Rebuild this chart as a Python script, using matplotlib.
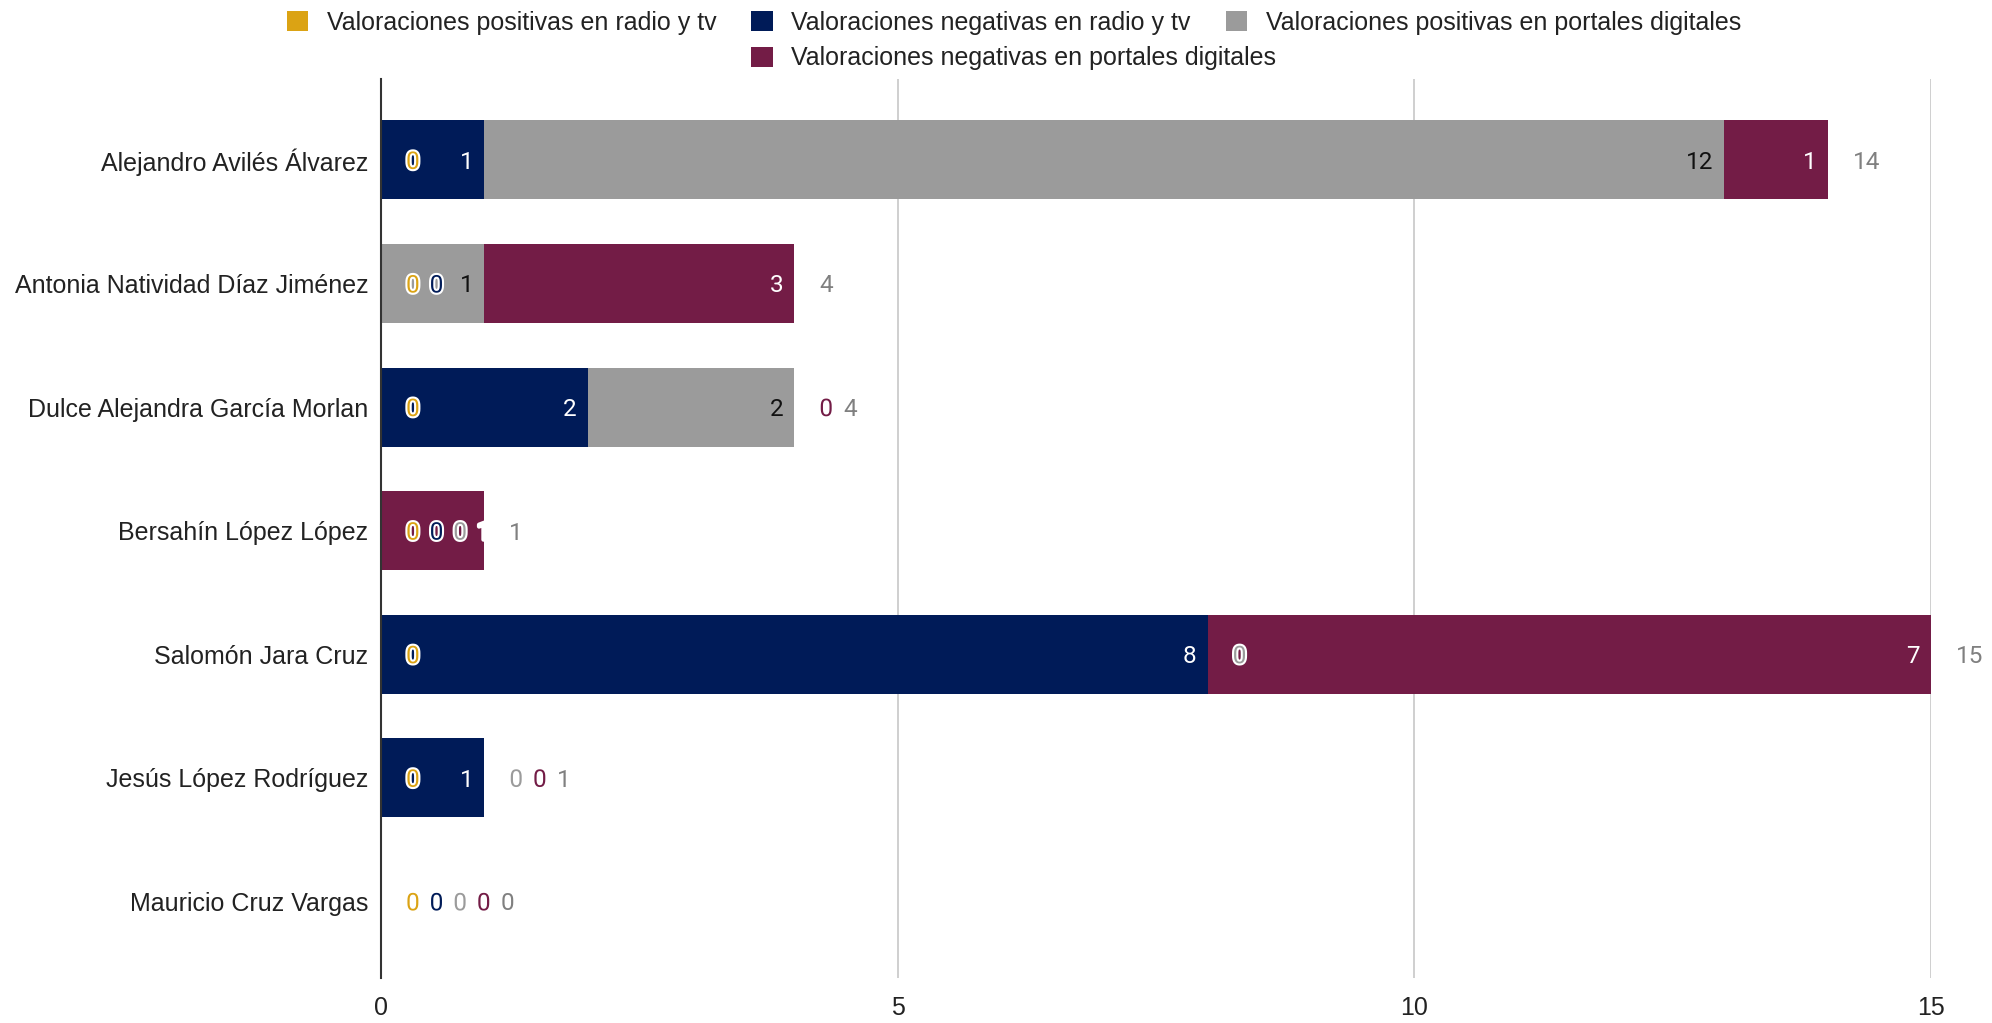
import matplotlib
matplotlib.use('Agg')
import matplotlib.pyplot as plt
import matplotlib.patheffects as pe
import numpy as np
from matplotlib.patches import Patch

candidatos = ['Alejandro Avilés Álvarez', 'Antonia Natividad Díaz Jiménez',
              'Dulce Alejandra García Morlan', 'Bersahín López López',
              'Salomón Jara Cruz', 'Jesús López Rodríguez', 'Mauricio Cruz Vargas']
series = ['Valoraciones positivas en radio y tv', 'Valoraciones negativas en radio y tv',
          'Valoraciones positivas en portales digitales', 'Valoraciones negativas en portales digitales']
pos_radio = [0, 0, 0, 0, 0, 0, 0]
neg_radio = [1, 0, 2, 0, 8, 1, 0]
pos_portales = [12, 1, 2, 0, 0, 0, 0]
neg_portales = [1, 3, 0, 1, 7, 0, 0]
valores = [pos_radio, neg_radio, pos_portales, neg_portales]
colores = ['#DBA314', '#001B58', '#9B9B9B', '#731C46']
texto_dentro = ['#ffffff', '#ffffff', '#111111', '#ffffff']
xticks = [0, 5, 10, 15]

plt.rcParams['font.family'] = ['Liberation Sans', 'DejaVu Sans']
FS = 18
FS_VAL = 17.5

fig = plt.figure(figsize=(19.92, 10.23), dpi=100)
ax = fig.add_axes([0.1913, 0.044, 0.7781, 0.8788])

y = np.arange(len(candidatos))
left = np.zeros(len(candidatos))
for vals, c in zip(valores, colores):
    ax.barh(y, vals, left=left, height=0.64, color=c, zorder=2)
    left = left + np.array(vals)
totales = left.astype(int)

ax.set_xlim(0, 15)
ax.set_ylim(6.62, -0.655)
ax.set_xticks(xticks)
ax.set_xticklabels([str(t) for t in xticks])
ax.set_yticks(y)
ax.set_yticklabels(candidatos)
ax.tick_params(axis='x', length=0, pad=13, labelsize=FS, labelcolor='#222222')
ax.tick_params(axis='y', length=0, pad=9, labelsize=FS, labelcolor='#222222')
ax.grid(axis='x', color='#cccccc', lw=1.3, zorder=0)
for s in ['top', 'right', 'bottom']:
    ax.spines[s].set_visible(False)
ax.spines['left'].set_color('#333333')
ax.spines['left'].set_linewidth(1.5)
ax.spines['left'].set_zorder(3)

# etiquetas de datos, colocadas en pixeles evitando que se encimen
renderer = fig.canvas.get_renderer()
GAP, PAD, OUT = 10, 11, 25
halo = [pe.withStroke(linewidth=3, foreground='white')]

for i in range(len(candidatos)):
    cursor = -1e9
    start = 0
    for vals, c, tc in zip(valores, colores, texto_dentro):
        v = vals[i]
        end = start + v
        t = ax.text(0, i, str(v), ha='left', va='center_baseline', fontsize=FS_VAL,
                    family=['Roboto', 'DejaVu Sans'], zorder=6)
        w = t.get_window_extent(renderer).width
        end_px = ax.transData.transform((end, i))[0]
        pref = end_px - PAD - w if v > 0 else end_px + OUT
        lx = max(pref, cursor + GAP)
        if v > 0:
            t.set_color(tc)
            if lx > pref:
                t.set_path_effects(halo)
        else:
            t.set_color(c)
            t.set_path_effects(halo)
        t.set_x(ax.transData.inverted().transform((lx, 0))[0])
        cursor = lx + w
        start = end
    t = ax.text(0, i, str(totales[i]), ha='left', va='center_baseline', fontsize=FS_VAL,
                family=['Roboto', 'DejaVu Sans'], color='#808080', zorder=6)
    w = t.get_window_extent(renderer).width
    end_px = ax.transData.transform((totales[i], i))[0]
    lx = max(end_px + OUT, cursor + GAP)
    t.set_x(ax.transData.inverted().transform((lx, 0))[0])

handles = [Patch(facecolor=c, edgecolor='none') for c in colores]
kw = dict(loc='center', frameon=False, fontsize=FS, handlelength=0.85, handleheight=0.85,
          handletextpad=0.75, columnspacing=1.4, borderpad=0, borderaxespad=0)
fig.legend(handles[:3], series[:3], ncol=3, bbox_to_anchor=(0.509, 0.9775), **kw)
fig.legend(handles[3:], series[3:], ncol=1, bbox_to_anchor=(0.509, 0.943), **kw)
for leg in fig.legends:
    for txt in leg.get_texts():
        txt.set_color('#222222')

fig.savefig('out.png', dpi=100)
